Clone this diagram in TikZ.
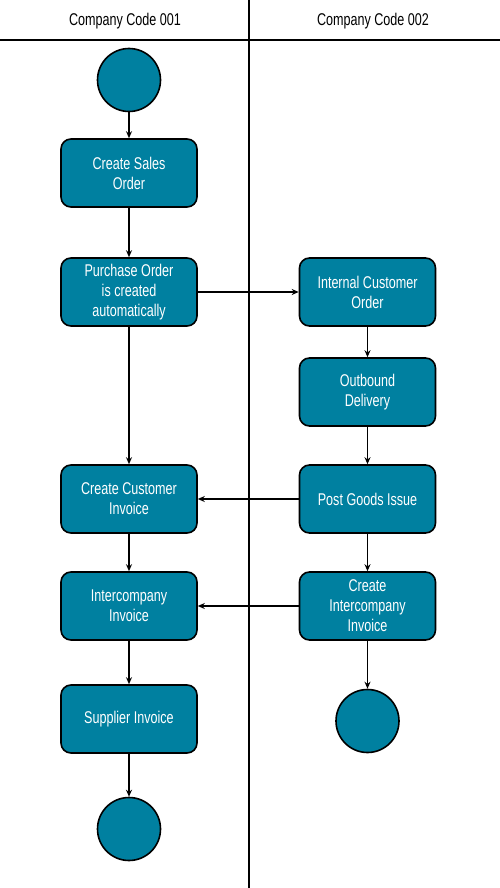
\documentclass[tikz,border=0pt]{standalone}
\usepackage{fontspec}
\setmainfont[FakeStretch=0.74]{Liberation Sans}
\usetikzlibrary{arrows.meta}
\definecolor{boxfill}{RGB}{0,128,160}
\tikzset{
  stepbox/.style={draw=black, line width=1.6pt, fill=boxfill, rounded corners=10pt,
    minimum width=136pt, minimum height=68pt, text=white, align=center,
    font=\fontsize{17}{20}\selectfont, inner sep=2pt},
  term/.style={draw=black, line width=1.6pt, fill=boxfill, circle, minimum size=63pt, inner sep=0pt},
  conn/.style={line width=1.4pt, -{Stealth[length=7pt,width=6pt]}},
  lane/.style={line width=1.6pt},
  head/.style={font=\fontsize{17}{20}\selectfont}
}
\begin{document}
\begin{tikzpicture}[x=1pt,y=-1pt]
\useasboundingbox (0,0) rectangle (500,888);
\draw[lane] (249,0) -- (249,888);
\draw[lane] (0,40) -- (500,40);
\node[head] (h1) at (125,21) {Company Code 001};
\node[head] (h2) at (373,21) {Company Code 002};

\node[term] (start) at (129,80) {};
\node[stepbox] (cso) at (129,173) {Create Sales\\Order};
\node[stepbox] (po) at (129,292) {Purchase Order\\is created\\automatically};
\node[stepbox] (ico) at (367.5,292) {Internal Customer\\Order};
\node[stepbox] (od) at (367.5,392) {Outbound\\Delivery};
\node[stepbox] (cci) at (129,499) {Create Customer\\Invoice};
\node[stepbox] (pgi) at (367.5,499) {Post Goods Issue};
\node[stepbox] (ici) at (129,606) {Intercompany\\Invoice};
\node[stepbox] (cii) at (367.5,606) {Create\\Intercompany\\Invoice};
\node[stepbox] (si) at (129,719) {Supplier Invoice};
\node[term] (end1) at (129,829) {};
\node[term] (end2) at (367.5,721) {};

\draw[conn] (start) -- (cso);
\draw[conn] (cso) -- (po);
\draw[conn] (po) -- (cci);
\draw[conn] (po) -- (ico);
\draw[conn] (ico) -- (od);
\draw[conn] (od) -- (pgi);
\draw[conn] (pgi) -- (cci);
\draw[conn] (pgi) -- (cii);
\draw[conn] (cci) -- (ici);
\draw[conn] (cii) -- (ici);
\draw[conn] (ici) -- (si);
\draw[conn] (cii) -- (end2);
\draw[conn] (si) -- (end1);
\end{tikzpicture}
\end{document}
